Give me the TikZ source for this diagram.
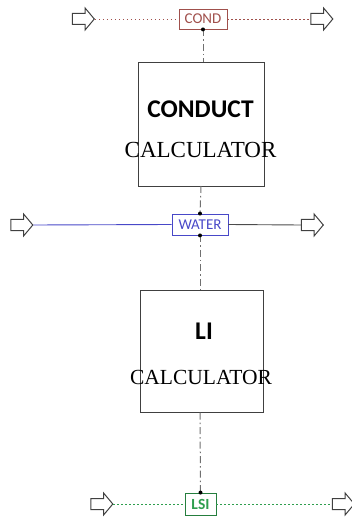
\documentclass[tikz,border=0pt]{standalone}
\usepackage{fontspec}
\setmainfont{Carlito}
\newfontfamily\serifcalc{Liberation Serif}
\usetikzlibrary{shapes.arrows}
\definecolor{condc}{HTML}{A0504C}
\definecolor{waterc}{HTML}{4848C8}
\definecolor{lsic}{HTML}{2E9E4E}
\definecolor{vline}{HTML}{707070}
\tikzset{
  blockarrow/.style={single arrow, draw=black!75, line width=1pt, minimum height=22pt,
    minimum width=21pt, single arrow head extend=5.5pt, single arrow tip angle=100,
    inner sep=5pt, anchor=center},
  calcbox/.style={draw=black!75, line width=0.9pt, inner sep=0pt},
  tagbox/.style={draw, line width=0.9pt, inner sep=0pt, font=\fontsize{15}{15}\selectfont},
  vdash/.style={draw=vline, line width=1pt, dash pattern=on 7pt off 3pt on 1.5pt off 3pt},
  pdot/.style={circle, fill=black, inner sep=0pt, minimum size=4pt},
  bigsans/.style={font=\fontsize{25.5}{25.5}\selectfont\bfseries},
  bigserif/.style={font=\fontsize{23}{23}\serifcalc},
  dotline/.style={line width=0.9pt, dash pattern=on 1.5pt off 2.5pt},
}
\begin{document}
\begin{tikzpicture}[x=1pt,y=-1pt]
\useasboundingbox (0,0) rectangle (352,518);
% boxes
\node[calcbox, minimum width=126pt, minimum height=124pt] (conduct) at (201,124) {};
\node[calcbox, minimum width=123pt, minimum height=122pt] (li) at (201.5,351.5) {};
\node[bigsans] (conductt) at (200.5,109) {CONDUCT};
\node[bigserif] (calc1) at (200.5,150) {CALCULATOR};
\node[bigsans] (lit) at (204,331) {LI};
\node[bigserif, font=\fontsize{21.5}{21.5}\serifcalc] (calc2) at (201,377) {CALCULATOR};
% tag boxes
\node[tagbox, draw=condc, text=condc, minimum width=48pt, minimum height=20pt] (cond) at (203,19) {COND};
\node[tagbox, draw=waterc, text=waterc, minimum width=56pt, minimum height=21pt] (water) at (200,224.5) {WATER};
\node[tagbox, draw=lsic!80!black, text=lsic, minimum width=31pt, minimum height=22pt, font=\fontsize{15.5}{15.5}\selectfont\bfseries] (lsi) at (200.5,504) {LSI};
% block arrows
\node[blockarrow] (ca) at (81,19) {};
\node[blockarrow] (cb) at (319.5,19) {};
\node[blockarrow] (wa) at (19.5,225) {};
\node[blockarrow] (wb) at (310,225) {};
\node[blockarrow] (la) at (99.5,504) {};
\node[blockarrow] (lb) at (341,504) {};
% horizontal streams
\draw[condc, dotline] (ca.tip) -- (cond.west);
\draw[condc, dotline] (cond.east) -- (cb.west);
\draw[waterc, line width=0.9pt] (wa.tip) -- (water.west);
\draw[black!70, line width=0.9pt] (water.east) -- (wb.west);
\draw[lsic, dotline] (la.tip) -- (lsi.west);
\draw[lsic, dotline] (lsi.east) -- (lb.west);
% vertical dash-dot connections
\coordinate (c1) at (203,62);
\coordinate (c2) at (201,186);
\coordinate (c3) at (200,290.5);
\coordinate (c4) at (200,412.5);
\draw[vdash] (cond.south) -- (c1);
\draw[vdash] (c2) -- (water.north);
\draw[vdash] (water.south) -- (c3);
\draw[vdash] (c4) -- (lsi.north);
\node[pdot] (d1) at (cond.south) {};
\node[pdot] (d2) at (water.north) {};
\node[pdot] (d3) at (water.south) {};
\node[pdot] (d4) at (lsi.north) {};
\end{tikzpicture}
\end{document}
